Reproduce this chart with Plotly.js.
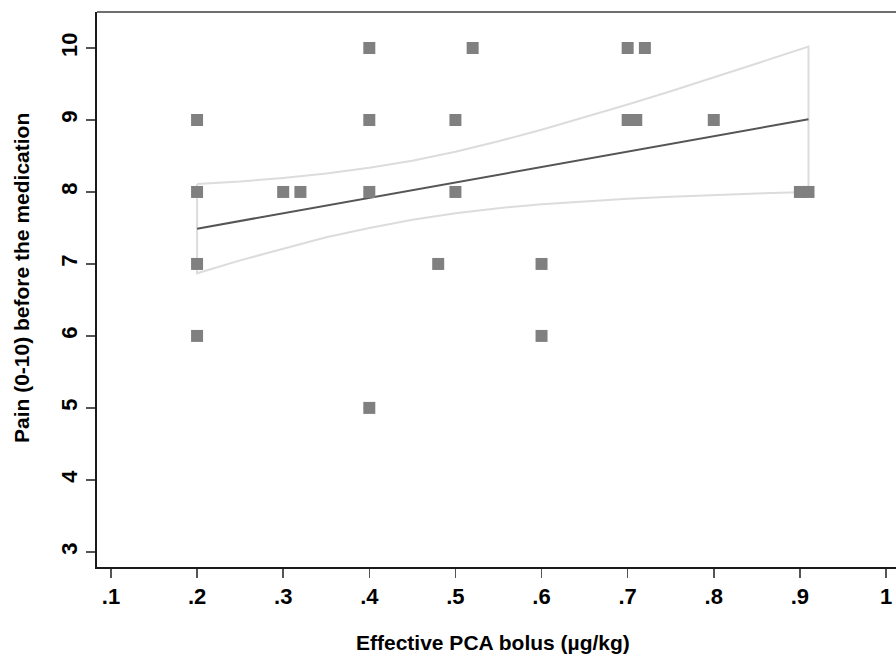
<!DOCTYPE html>
<html>
<head>
<meta charset="utf-8">
<script src="https://cdn.plot.ly/plotly-3.0.1.min.js"></script>
<style>html,body{margin:0;padding:0;background:#fff;}#chart{width:896px;height:657px;}</style>
</head>
<body>
<div id="chart"></div>
<script>
// Observed points: effective PCA bolus (µg/kg) vs pain before medication
const bolus = [0.2, 0.2, 0.2, 0.2, 0.3, 0.32, 0.4, 0.4, 0.4, 0.4, 0.48, 0.5, 0.5, 0.52, 0.6, 0.6, 0.7, 0.72, 0.7, 0.71, 0.8, 0.9, 0.91];
const pain  = [9, 8, 7, 6, 8, 8, 10, 9, 8, 5, 7, 9, 8, 10, 7, 6, 10, 10, 9, 9, 9, 8, 8];

// Linear fit
const fitX = [0.2, 0.91];
const fitY = [7.49, 9.01];

// 95% CI band
const ciX     = [0.2, 0.25, 0.3, 0.35, 0.4, 0.45, 0.5, 0.55, 0.6, 0.65, 0.7, 0.75, 0.8, 0.85, 0.91];
const ciUpper = [8.11, 8.145, 8.195, 8.255, 8.335, 8.435, 8.56, 8.705, 8.865, 9.035, 9.215, 9.40, 9.59, 9.785, 10.02];
const ciLower = [6.87, 7.05, 7.215, 7.37, 7.50, 7.615, 7.705, 7.775, 7.83, 7.87, 7.905, 7.935, 7.96, 7.98, 8.0];

const xTicks = [0.1, 0.2, 0.3, 0.4, 0.5, 0.6, 0.7, 0.8, 0.9, 1];
const xTickText = ['.1', '.2', '.3', '.4', '.5', '.6', '.7', '.8', '.9', '1'];
const yTicks = [3, 4, 5, 6, 7, 8, 9, 10];

const bandX = ciX.concat(ciX.slice().reverse(), [ciX[0]]);
const bandY = ciUpper.concat(ciLower.slice().reverse(), [ciUpper[0]]);

const font = 'Liberation Sans, Arial, sans-serif';

const traces = [
  {x: bandX, y: bandY, type: 'scatter', mode: 'lines',
   line: {color: '#dcdcdc', width: 2}, hoverinfo: 'skip', showlegend: false},
  {x: fitX, y: fitY, type: 'scatter', mode: 'lines',
   line: {color: '#555555', width: 2}, showlegend: false},
  {x: bolus, y: pain, type: 'scatter', mode: 'markers',
   marker: {symbol: 'square', size: 12, color: '#808080', line: {width: 0}}, showlegend: false}
];

const layout = {
  width: 896, height: 657,
  margin: {l: 97, r: 0, t: 12, b: 90},
  paper_bgcolor: '#ffffff', plot_bgcolor: '#ffffff',
  font: {family: font, color: '#000'},
  xaxis: {
    range: [0.0838, 1.0116], tickvals: xTicks, ticktext: xTickText,
    showgrid: false, zeroline: false, showline: true, linecolor: '#1a1a1a', linewidth: 2,
    ticks: 'outside', ticklen: 9, tickwidth: 1.5, tickcolor: '#555',
    tickfont: {family: font, size: 22, color: '#000', weight: 'bold'}
  },
  yaxis: {
    range: [2.79, 10.5], tickvals: yTicks,
    showgrid: false, zeroline: false, showline: true, linecolor: '#1a1a1a', linewidth: 2,
    ticks: 'outside', ticklen: 9, tickwidth: 1.5, tickcolor: '#555', tickangle: -90,
    tickfont: {family: font, size: 22, color: '#000', weight: 'bold'}
  },
  shapes: [
    {type: 'line', xref: 'paper', yref: 'paper', x0: 0, x1: 1, y0: 1, y1: 1,
     line: {color: '#6e6e6e', width: 2}}
  ],
  annotations: [
    {text: '<b>Effective PCA bolus (µg/kg)</b>', xref: 'paper', yref: 'paper',
     x: (493 - 97) / 799, y: -(642 - 567) / 555, xanchor: 'center', yanchor: 'middle',
     showarrow: false, font: {family: font, size: 21, color: '#000'}},
    {text: '<b>Pain (0-10) before the medication</b>', xref: 'paper', yref: 'paper',
     x: -(97 - 21) / 799, y: (567 - 278) / 555, xanchor: 'center', yanchor: 'middle',
     textangle: -90, showarrow: false, font: {family: font, size: 21, color: '#000'}}
  ]
};

Plotly.newPlot('chart', traces, layout, {displayModeBar: false, staticPlot: true});
</script>
</body>
</html>
